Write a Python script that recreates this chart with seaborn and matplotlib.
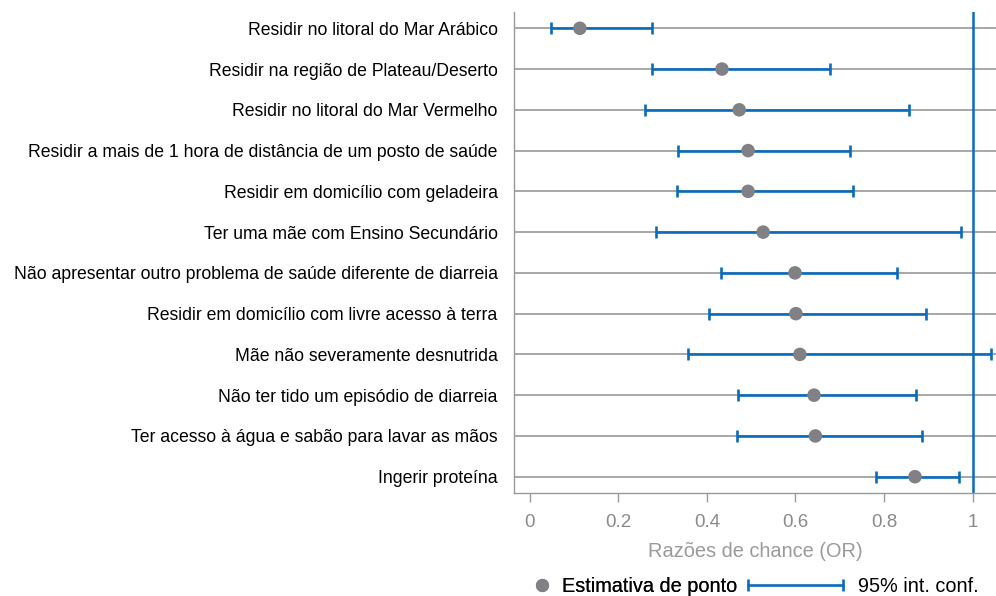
import matplotlib
matplotlib.use("Agg")
import matplotlib.pyplot as plt
from matplotlib.lines import Line2D
from matplotlib.legend_handler import HandlerLine2D
import seaborn as sns
import pandas as pd

categories = [
    "Residir no litoral do Mar Arábico",
    "Residir na região de Plateau/Deserto",
    "Residir no litoral do Mar Vermelho",
    "Residir a mais de 1 hora de distância de um posto de saúde",
    "Residir em domicílio com geladeira",
    "Ter uma mãe com Ensino Secundário",
    "Não apresentar outro problema de saúde diferente de diarreia",
    "Residir em domicílio com livre acesso à terra",
    "Mãe não severamente desnutrida",
    "Não ter tido um episódio de diarreia",
    "Ter acesso à água e sabão para lavar as mãos",
    "Ingerir proteína",
]
odds_ratio = [0.113, 0.434, 0.473, 0.493, 0.493, 0.527, 0.599, 0.601, 0.610, 0.642, 0.645, 0.870]
ci_lower = [0.047, 0.277, 0.261, 0.335, 0.333, 0.286, 0.432, 0.405, 0.358, 0.471, 0.468, 0.783]
ci_upper = [0.276, 0.678, 0.856, 0.723, 0.730, 0.973, 0.829, 0.895, 1.042, 0.873, 0.885, 0.970]
x_ticks = [0, 0.2, 0.4, 0.6, 0.8, 1]
x_tick_labels = ["0", "0.2", "0.4", "0.6", "0.8", "1"]

BLUE = "#0a6bbd"
DOT = "#808085"
GRID = "#8f8f8f"
TXTGRAY = "#8a8a8a"

sns.set_theme(style="white")
plt.rcParams["font.family"] = ["Liberation Sans", "DejaVu Sans"]

df = pd.DataFrame({"cat": categories, "or": odds_ratio, "lo": ci_lower, "hi": ci_upper})
df["pos"] = range(len(df))

fig = plt.figure(figsize=(9.96, 5.96), dpi=100)
ax = fig.add_axes([0.5164, 0.1733, 1.0 - 0.5164, 0.9794 - 0.1733])

ax.axvline(1, color=BLUE, lw=1.8, zorder=2)
ax.errorbar(df["or"], df["pos"],
            xerr=[df["or"] - df["lo"], df["hi"] - df["or"]],
            fmt="none", ecolor=BLUE, elinewidth=1.9, capsize=4.2, capthick=1.9, zorder=3)
sns.scatterplot(data=df, x="or", y="pos", color=DOT, s=95, edgecolor="none",
                ax=ax, zorder=4, legend=False)

ax.set_xlim(-0.035, 1.053)
ax.set_ylim(len(df) - 1 + 0.393, -0.393)
ax.set_yticks(df["pos"])
ax.set_yticklabels(categories, fontsize=12.7, color="#000000")
ax.set_xticks(x_ticks)
ax.set_xticklabels(x_tick_labels, fontsize=13.5, color=TXTGRAY)
ax.set_xlabel("Razões de chance (OR)", fontsize=14.4, color="#9a9a9a", labelpad=8)
ax.set_ylabel("")

ax.grid(axis="y", color=GRID, lw=1.1, zorder=1)
ax.grid(axis="x", visible=False)
ax.set_axisbelow(True)
for s in ["top", "right"]:
    ax.spines[s].set_visible(False)
for s in ["left", "bottom"]:
    ax.spines[s].set_color("#9a9a9a")
    ax.spines[s].set_linewidth(1.0)
ax.tick_params(axis="y", length=0, pad=12)
ax.tick_params(axis="x", length=6.5, width=1.0, color="#9a9a9a", pad=9, direction="out", bottom=True)

fs_leg = 14.3
dot_handle = Line2D([], [], linestyle="none", marker="o", markersize=9.5,
                    markerfacecolor=DOT, markeredgecolor="none")
ci_handle = Line2D([], [], color=BLUE, lw=1.9, marker="|", markersize=9,
                   markeredgewidth=1.9)
leg1 = fig.legend([dot_handle], ["Estimativa de ponto"], loc="center left",
                  bbox_to_anchor=(531.7 / 996, 1 - 586 / 596), frameon=False,
                  fontsize=fs_leg, handlelength=1.0, handletextpad=0.52,
                  borderpad=0, borderaxespad=0, numpoints=1, labelcolor="#000000")
leg2 = fig.legend([ci_handle], ["95% int. conf."], loc="center left",
                  bbox_to_anchor=(748 / 996, 1 - 586 / 596), frameon=False,
                  fontsize=fs_leg, handlelength=4.77, handletextpad=0.75,
                  borderpad=0, borderaxespad=0, labelcolor="#000000",
                  handler_map={ci_handle: HandlerLine2D(numpoints=2, marker_pad=0)})
fig.add_artist(leg1)

fig.savefig("out.png", dpi=100)
